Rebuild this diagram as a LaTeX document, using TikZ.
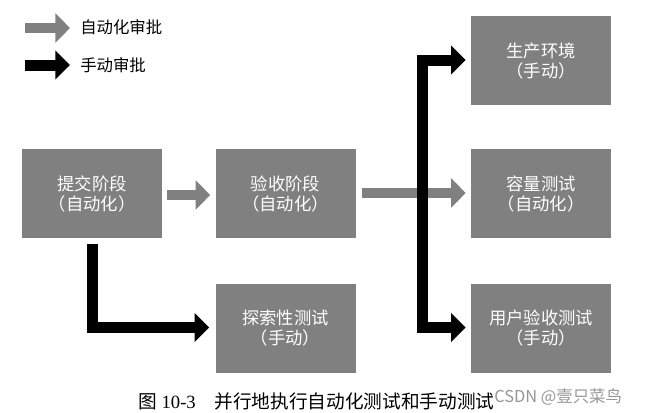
\documentclass[tikz,border=0pt]{standalone}
\usepackage{fontspec}
\setmainfont{Liberation Serif}
\newfontfamily\cjk{Noto Sans CJK SC}
\usetikzlibrary{arrows.meta}
\definecolor{boxgray}{RGB}{128,128,128}
\definecolor{wmgray}{RGB}{150,150,150}
\tikzset{
  stage/.style={fill=boxgray, draw=none, minimum width=105pt, minimum height=66.75pt,
    text=white, align=center, font=\cjk\fontsize{13}{15}\selectfont, inner sep=0pt},
  autoarr/.style={draw=boxgray, line width=7.5pt,
    -{Triangle[length=11pt,width=21.5pt]}},
  manarr/.style={draw=black, line width=8.25pt, line join=miter,
    -{Triangle[length=11pt,width=21pt]}},
  manarrboth/.style={draw=black, line width=8.25pt, line join=miter,
    {Triangle[length=11pt,width=21pt]}-{Triangle[length=11pt,width=21pt]}},
  legtext/.style={anchor=west, font=\cjk\fontsize{12.3}{14}\selectfont, inner sep=0pt}
}
\begin{document}
\begin{tikzpicture}[x=0.75pt,y=-0.75pt]
\useasboundingbox (0,0) rectangle (650,412);
% legend
\coordinate (la1) at (25,28);
\coordinate (la2) at (70,28);
\coordinate (lb1) at (25,65);
\coordinate (lb2) at (70,65);
\draw[autoarr] (la1) -- (la2);
\draw[manarr] (lb1) -- (lb2);
\node[legtext] (lt1) at (80,27) {自动化审批};
\node[legtext] (lt2) at (80,65) {手动审批};
% boxes
\node[stage] (commit) at (92,193.5) {提交阶段\\（自动化）};
\node[stage] (accept) at (285.5,193.5) {验收阶段\\（自动化）};
\node[stage] (explore) at (285.5,328) {探索性测试\\（手动）};
\node[stage] (prod) at (541,60.5) {生产环境\\（手动）};
\node[stage] (cap) at (541,193.5) {容量测试\\（自动化）};
\node[stage] (uat) at (541,328) {用户验收测试\\（手动）};
% automated arrows
\draw[autoarr, shorten <=3.75pt, shorten >=3.75pt] (commit.east |- 0,195) -- (accept.west |- 0,195);
\draw[autoarr, shorten <=5pt, shorten >=3.75pt] (accept.east |- 0,193) -- (cap.west |- 0,193);
% manual arrows
\coordinate (s1) at (92,244);
\draw[manarr, shorten >=4.5pt] (s1) |- (explore.west |- 0,327.5);
\coordinate (fork) at (422,193);
\draw[manarrboth, shorten <=3.75pt, shorten >=3.75pt] (prod.west |- 0,60) -| (fork) |- (uat.west |- 0,327.5);
% caption
\node[anchor=west, inner sep=0pt, font=\fontsize{14}{16}\selectfont] (cap1) at (138,401)
  {{\cjk 图} 10-3\hspace{14pt}{\cjk\fontsize{14}{16}\selectfont 并行地执行自动化测试和手动测试}};
\node[anchor=west, inner sep=0pt, text=wmgray, font=\cjk\fontsize{12.3}{14}\selectfont] (wm) at (494,397) {CSDN @壹只菜鸟};
\end{tikzpicture}
\end{document}
